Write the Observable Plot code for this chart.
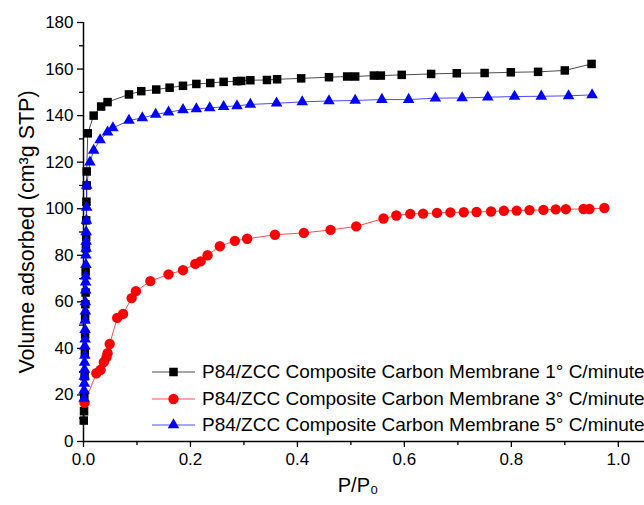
<!DOCTYPE html>
<html>
<head>
<meta charset="utf-8">
<script src="https://cdn.jsdelivr.net/npm/d3@7"></script>
<script src="https://cdn.jsdelivr.net/npm/@observablehq/plot@0.6"></script>
<style>
  html, body { margin: 0; padding: 0; background: white; }
  #wrap { position: relative; width: 644px; height: 505px; font-family: 'Liberation Sans', Arial, sans-serif; }
  #legend { position: absolute; left: 152px; top: 359px; }
  .row { display: flex; align-items: center; height: 26.5px; white-space: nowrap; font-size: 19px; color: #000; }
  .row svg { margin-right: 7px; }
</style>
</head>
<body>
<div id="wrap"><div id="chart"></div><div id="legend"></div></div>
<script>
// ---- Data ----
const seriesNames = [
  "P84/ZCC Composite Carbon Membrane 1° C/minute",
  "P84/ZCC Composite Carbon Membrane 3° C/minute",
  "P84/ZCC Composite Carbon Membrane 5° C/minute"
];
const seriesColors = ["#000000", "#ff0000", "#0000ff"];
const seriesSymbols = ["square", "circle", "triangle"];

const x1 = [0.0005, 0.001, 0.0015, 0.002, 0.0025, 0.003, 0.003, 0.0035, 0.004, 0.004, 0.0045, 0.005, 0.005, 0.0055, 0.006, 0.006, 0.008,
  0.019, 0.033, 0.045, 0.085, 0.108, 0.136, 0.161, 0.186, 0.211, 0.237, 0.262, 0.287, 0.295, 0.312, 0.343, 0.362, 0.407, 0.459, 0.493, 0.508, 0.543, 0.556, 0.595, 0.650, 0.698, 0.750, 0.799, 0.850, 0.900, 0.950];
const y1 = [9, 13, 20, 28, 38, 46, 53, 59, 64, 73, 83, 88, 95, 103, 110, 116, 132.4,
  140, 143.9, 145.8, 149.1, 150.5, 151.2, 152, 152.8, 153.6, 154, 154.5, 154.8, 154.9, 155.2, 155.3, 155.6, 156, 156.5, 156.8, 156.8, 157.2, 157.2, 157.5, 157.9, 158.2, 158.3, 158.6, 158.8, 159.4, 162.2];

const x3 = [0.002, 0.024, 0.032, 0.038, 0.043, 0.045, 0.049, 0.063, 0.074, 0.090, 0.098, 0.125, 0.159, 0.186, 0.209, 0.219, 0.232, 0.255, 0.283, 0.306, 0.358, 0.412, 0.462, 0.510, 0.561, 0.585, 0.611, 0.635, 0.661, 0.686, 0.711, 0.735, 0.762, 0.786, 0.810, 0.834, 0.860, 0.883, 0.902, 0.935, 0.946, 0.974];
const y3 = [16.6, 29.3, 30.8, 34.1, 36.2, 37.9, 41.9, 53.1, 54.8, 61.6, 64.6, 68.9, 71.8, 73.6, 76.3, 77.4, 80, 83.9, 86.2, 87.1, 88.8, 89.6, 90.9, 92.4, 95.8, 97.1, 97.8, 97.9, 98.2, 98.4, 98.5, 98.6, 98.8, 99.1, 99.2, 99.4, 99.5, 99.7, 99.8, 99.9, 99.9, 100.3];

const x5 = [0.001, 0.001, 0.0015, 0.0015, 0.002, 0.002, 0.0025, 0.0025, 0.003, 0.003, 0.003, 0.0035, 0.0035, 0.004, 0.004, 0.004, 0.0045, 0.0045, 0.005, 0.005, 0.005, 0.0055, 0.006, 0.006, 0.012, 0.019, 0.031, 0.045, 0.055, 0.085,
  0.110, 0.135, 0.159, 0.186, 0.211, 0.236, 0.262, 0.287, 0.312, 0.361, 0.409, 0.459, 0.508, 0.558, 0.608, 0.658, 0.708, 0.756, 0.806, 0.856, 0.907, 0.951];
const y5 = [18.5, 22, 25, 28, 31, 34, 37, 41, 44, 48, 52, 56, 60, 65, 68.5, 71, 76, 80, 83, 86, 90, 95, 100.6, 110, 120, 125, 129.6, 132.9, 134.7, 137.9,
  139.0, 140.5, 141.5, 142.5, 142.9, 143.3, 143.8, 144.2, 144.8, 145.3, 145.9, 146.3, 146.5, 146.9, 146.9, 147.5, 147.6, 147.9, 148.2, 148.3, 148.5, 148.9];

const xTicks = [0, 0.2, 0.4, 0.6, 0.8, 1.0];
const xMinor = [0.1, 0.3, 0.5, 0.7, 0.9];
const yTicks = [0, 20, 40, 60, 80, 100, 120, 140, 160, 180];
const yMinor = [10, 30, 50, 70, 90, 110, 130, 150, 170];
const xLabel = "P/P₀";
const yLabel = "Volume adsorbed (cm³g STP)";

// ---- Build tables ----
const toRows = (xs, ys) => xs.map((x, i) => ({x, y: ys[i]}));
const series = [toRows(x1, y1), toRows(x3, y3), toRows(x5, y5)];
const symR = {square: 4.8, circle: 5.2, triangle: 4.3};

const marks = [
  Plot.axisX({ticks: xTicks, tickFormat: d => d.toFixed(1), tickSize: 6, tickPadding: 5, label: null, fontSize: 17, strokeWidth: 1.3}),
  Plot.axisX({ticks: xMinor, tickFormat: () => "", tickSize: 4, label: null, strokeWidth: 1.3}),
  Plot.axisY({ticks: yTicks, tickSize: 6, tickPadding: 4, label: null, fontSize: 17, strokeWidth: 1.3}),
  Plot.axisY({ticks: yMinor, tickFormat: () => "", tickSize: 4, label: null, strokeWidth: 1.3}),
  Plot.ruleY([0], {stroke: "black", strokeWidth: 1.5}),
  Plot.ruleX([0], {stroke: "black", strokeWidth: 1.5}),
  Plot.text([xLabel], {frameAnchor: "bottom", dy: 50, dx: -6, fontSize: 20, fill: "black", textAnchor: "middle"}),
  Plot.text([yLabel], {frameAnchor: "left", rotate: -90, dx: -56, dy: 0, fontSize: 21.5, fill: "black", textAnchor: "middle"})
];
series.forEach((rows, i) => {
  marks.push(Plot.line(rows, {x: "x", y: "y", stroke: seriesColors[i], strokeWidth: 1, strokeOpacity: 0.7}));
});
series.forEach((rows, i) => {
  marks.push(Plot.dot(rows, {x: "x", y: "y", symbol: seriesSymbols[i], r: symR[seriesSymbols[i]], fill: seriesColors[i], stroke: "none"}));
});

const chart = Plot.plot({
  width: 644,
  height: 505,
  marginLeft: 83,
  marginRight: 0,
  marginTop: 22,
  marginBottom: 64,
  x: {domain: [0, 1.049]},
  y: {domain: [0, 180]},
  style: {fontFamily: "'Liberation Sans', Arial, sans-serif", fontSize: "16px", color: "black", background: "white", overflow: "visible"},
  marks
});
document.getElementById("chart").appendChild(chart);

// ---- Legend ----
const legend = document.getElementById("legend");
seriesNames.forEach((name, i) => {
  const row = document.createElement("div");
  row.className = "row";
  const sw = d3.create("svg").attr("width", 43).attr("height", 14);
  sw.append("line").attr("x1", 0).attr("x2", 43).attr("y1", 7).attr("y2", 7)
    .attr("stroke", seriesColors[i]).attr("stroke-width", 1).attr("stroke-opacity", 0.7);
  const r = symR[seriesSymbols[i]];
  const sym = {square: d3.symbolSquare, circle: d3.symbolCircle, triangle: d3.symbolTriangle}[seriesSymbols[i]];
  sw.append("path").attr("transform", "translate(21.5,7)")
    .attr("d", d3.symbol(sym, Math.PI * r * r)()).attr("fill", seriesColors[i]);
  row.appendChild(sw.node());
  const t = document.createElement("span");
  t.textContent = name;
  row.appendChild(t);
  legend.appendChild(row);
});
</script>
</body>
</html>
